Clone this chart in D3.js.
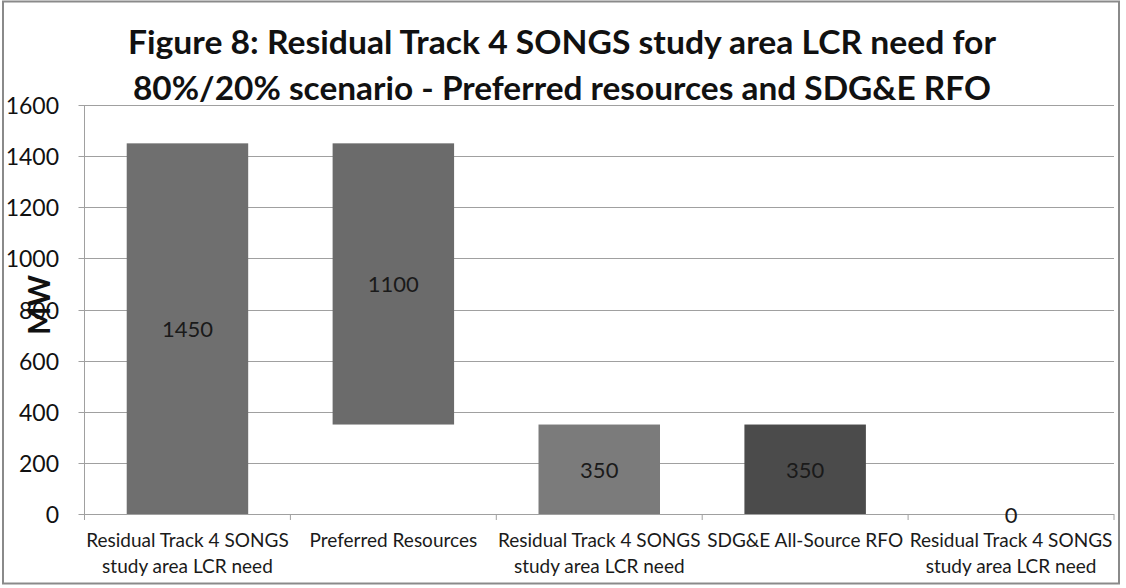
<!DOCTYPE html>
<html>
<head>
<meta charset="utf-8">
<script src="https://cdn.jsdelivr.net/npm/d3@7"></script>
<style>
  html, body { margin: 0; padding: 0; background: #fff; }
  svg { display: block; }
  text { font-family: Lato, "Open Sans", sans-serif; }
</style>
</head>
<body>
<svg id="chart" width="1126" height="588"></svg>
<script>
// ---- data ----
const titleLines = [
  "Figure 8: Residual Track 4 SONGS study area LCR need for",
  "80%/20% scenario - Preferred resources and SDG&E RFO"
];
const categories = [
  "Residual Track 4 SONGS study area LCR need|a",
  "Preferred Resources",
  "Residual Track 4 SONGS study area LCR need|b",
  "SDG&E All-Source RFO",
  "Residual Track 4 SONGS study area LCR need|c"
];
const categoryLines = [
  ["Residual Track 4 SONGS", "study area LCR need"],
  ["Preferred Resources"],
  ["Residual Track 4 SONGS", "study area LCR need"],
  ["SDG&E All-Source RFO"],
  ["Residual Track 4 SONGS", "study area LCR need"]
];
const barLow  = [0, 350, 0, 0, 0];
const barHigh = [1450, 1450, 350, 350, 0];
const barValues = [1450, 1100, 350, 350, 0];
const barColors = ["#6f6f6f", "#6b6b6b", "#7b7b7b", "#4b4b4b", "#6f6f6f"];
const yTicks = [0, 200, 400, 600, 800, 1000, 1200, 1400, 1600];
const yTitle = "MW";

// ---- layout ----
const svg = d3.select("#chart");
const mLeft = 84.5, mRight = 1114, mTop = 105, mBottom = 514;

const x = d3.scaleBand().domain(categories).range([mLeft, mRight])
  .paddingInner(0.41).paddingOuter(0.205);
const y = d3.scaleLinear().domain([0, 1600]).range([mBottom, mTop]);

// outer border
svg.append("rect").attr("x", 3).attr("y", 1.5).attr("width", 1116).attr("height", 582)
  .attr("fill", "none").attr("stroke", "#8a8a8a").attr("stroke-width", 2);

// gridlines
svg.append("g").selectAll("line").data(yTicks).join("line")
  .attr("x1", mLeft).attr("x2", mRight)
  .attr("y1", d => Math.round(y(d)) + 0.5).attr("y2", d => Math.round(y(d)) + 0.5)
  .attr("stroke", "#a0a0a0").attr("stroke-width", 1);

// y axis line + ticks
svg.append("line").attr("x1", mLeft).attr("x2", mLeft).attr("y1", mTop).attr("y2", mBottom)
  .attr("stroke", "#a0a0a0");
svg.append("g").selectAll("line").data(yTicks).join("line")
  .attr("x1", mLeft - 6).attr("x2", mLeft)
  .attr("y1", d => Math.round(y(d)) + 0.5).attr("y2", d => Math.round(y(d)) + 0.5)
  .attr("stroke", "#a0a0a0");

// x axis category boundary ticks
const bounds = d3.range(categories.length + 1).map(i => mLeft + i * x.step());
svg.append("g").selectAll("line").data(bounds).join("line")
  .attr("x1", d => d).attr("x2", d => d)
  .attr("y1", mBottom).attr("y2", mBottom + 6)
  .attr("stroke", "#a0a0a0");

// y tick labels
svg.append("g").selectAll("text").data(yTicks).join("text")
  .attr("x", 59).attr("y", d => y(d))
  .attr("text-anchor", "end").attr("dominant-baseline", "central")
  .attr("font-size", 23).attr("fill", "#111")
  .text(d => d);

// bars
svg.append("g").selectAll("rect").data(categories).join("rect")
  .attr("x", d => x(d))
  .attr("width", x.bandwidth())
  .attr("y", (d, i) => y(barHigh[i]))
  .attr("height", (d, i) => y(barLow[i]) - y(barHigh[i]))
  .attr("fill", (d, i) => barColors[i]);

// bar value labels
svg.append("g").selectAll("text").data(categories).join("text")
  .attr("x", d => x(d) + x.bandwidth() / 2)
  .attr("y", (d, i) => (y(barLow[i]) + y(barHigh[i])) / 2)
  .attr("text-anchor", "middle").attr("dominant-baseline", "central")
  .attr("font-size", 22).attr("fill", "#1a1a1a")
  .text((d, i) => barValues[i]);

// category labels
const cat = svg.append("g").selectAll("text").data(categories).join("text")
  .attr("text-anchor", "middle").attr("font-size", 19).attr("fill", "#1a1a1a");
cat.each(function(d, i) {
  const t = d3.select(this);
  categoryLines[i].forEach((line, j) => {
    t.append("tspan").attr("x", x(d) + x.bandwidth() / 2)
      .attr("y", 547 + j * 26).text(line);
  });
});

// y-axis title
svg.append("text")
  .attr("transform", "translate(50,305) rotate(-90)")
  .attr("text-anchor", "middle")
  .attr("font-size", 30).attr("font-weight", "bold").attr("fill", "#111")
  .text(yTitle);

// chart title
const titleWidths = [868, 858];
svg.append("g").selectAll("text").data(titleLines).join("text")
  .attr("x", 562).attr("y", (d, i) => 54 + i * 46)
  .attr("text-anchor", "middle")
  .attr("font-size", 31.5).attr("font-weight", "bold").attr("fill", "#111")
  .attr("textLength", (d, i) => titleWidths[i])
  .attr("lengthAdjust", "spacingAndGlyphs")
  .text(d => d);
</script>
</body>
</html>
